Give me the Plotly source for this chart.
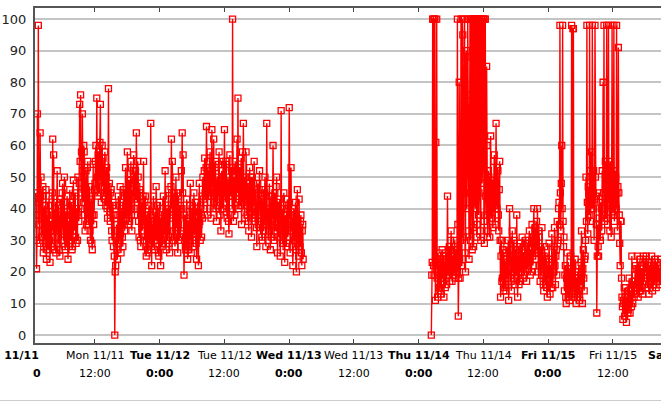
import pandas as pd
import plotly.graph_objects as go

# ---- data: readings every 5 minutes ----
mon_start = "2002-11-11 01:00"
mon_vals = [
    45, 38, 21, 30, 70, 42, 98, 35, 38, 29, 64, 44,
    50, 31, 33, 44, 47, 26, 28, 39, 41, 30, 35, 46,
    24, 33, 38, 27, 29, 41, 44, 30, 23, 35, 36, 28,
    31, 45, 62, 33, 57, 29, 27, 38, 40, 26, 33, 42,
    52, 34, 29, 41, 38, 27, 25, 36, 43, 30, 35, 45,
    48, 33, 30, 42, 50, 28, 27, 38, 39, 31, 44, 36,
    24, 35, 36, 29, 46, 33, 30, 42, 41, 27, 28, 37,
    49, 35, 33, 44, 45, 31, 29, 40, 38, 30, 50, 39,
    36, 48, 73, 55, 76, 45, 58, 40, 70, 52, 42, 60,
    58, 38, 33, 47, 52, 35, 40, 53, 55, 36, 35, 44,
    47, 33, 30, 41, 43, 29, 27, 38, 54, 35, 38, 46,
    48, 55, 60, 46, 75, 50, 44, 57, 58, 45, 52, 61,
    73, 49, 42, 55, 60, 47, 56, 44, 45, 52, 58, 43,
    41, 50, 53, 40, 37, 47, 78, 44, 48, 39, 36, 45,
    46, 33, 30, 41, 42, 28, 38, 25, 0, 20, 22, 31,
    35, 27, 24, 38, 44, 29, 30, 41, 47, 32, 26, 36,
    40, 31, 28, 42, 46, 35, 33, 45, 53, 38, 37, 44,
    58, 39, 35, 48, 49, 36, 40, 51, 55, 38, 33, 46,
    44, 52, 57, 40, 38, 49, 52, 43, 64, 47, 42, 55,
    50, 36, 31, 45, 46, 30, 28, 40, 42, 33, 35, 44,
    55, 37, 30, 42, 44, 28, 25, 36, 38, 27, 26, 35,
    41, 30, 29, 38, 67, 33, 22, 34, 35, 28, 44, 31,
    27, 36, 39, 30, 47, 33, 30, 41, 36, 26, 25, 34,
]
tue_start = "2002-11-12 00:00"
tue_vals = [
    42, 30, 22, 35, 37, 28, 29, 40, 44, 31, 32, 38,
    52, 34, 27, 39, 40, 30, 33, 43, 46, 29, 26, 37,
    38, 47, 62, 40, 55, 33, 30, 42, 45, 31, 28, 39,
    50, 37, 34, 45, 26, 35, 44, 30, 31, 40, 41, 33,
    52, 40, 64, 45, 57, 32, 19, 30, 38, 28, 27, 37,
    43, 31, 24, 36, 35, 27, 30, 41, 48, 33, 26, 35,
    40, 30, 28, 39, 45, 33, 32, 42, 37, 29, 24, 34,
    42, 32, 22, 35, 48, 36, 30, 40, 38, 31, 44, 37,
    50, 43, 40, 52, 56, 45, 44, 53, 66, 47, 38, 49,
    52, 44, 45, 55, 58, 42, 37, 48, 65, 50, 48, 40,
    62, 47, 42, 53, 55, 40, 36, 46, 50, 41, 46, 54,
    58, 44, 38, 49, 33, 45, 52, 40, 45, 55, 40, 47,
    65, 48, 42, 55, 54, 39, 37, 47, 50, 36, 32, 44,
    57, 45, 44, 53, 52, 40, 100, 46, 36, 50, 48, 38,
    55, 43, 42, 52, 62, 47, 75, 45, 40, 51, 53, 41,
    46, 56, 35, 44, 58, 42, 67, 48, 44, 37, 50, 43,
    58, 41, 38, 47, 48, 36, 33, 45, 53, 39, 42, 50,
    31, 42, 50, 37, 40, 48, 55, 38, 36, 46, 45, 34,
    28, 39, 48, 35, 38, 46, 52, 36, 34, 44, 43, 31,
    30, 41, 46, 33, 37, 45, 50, 35, 28, 39, 67, 36,
    40, 30, 33, 44, 48, 35, 27, 38, 44, 31, 36, 42,
    60, 38, 30, 41, 45, 33, 38, 47, 50, 34, 26, 37,
    42, 31, 34, 43, 25, 36, 71, 35, 40, 29, 30, 38,
    45, 33, 23, 35, 38, 28, 29, 40, 43, 31, 34, 41,
]
wed_start = "2002-11-13 00:00"
wed_vals = [
    72, 36, 26, 39, 53, 33, 35, 28, 22, 34, 40, 30,
    30, 38, 42, 27, 20, 33, 46, 29, 33, 25, 43, 31,
    28, 36, 38, 26, 22, 33, 35, 24,
]
thu_start = "2002-11-14 02:20"
thu_vals = [
    0, 19, 23, 100, 100, 22, 19, 100,
    100, 11, 61, 24, 100, 18, 12, 26, 22, 14, 15, 23,
    24, 16, 13, 22, 27, 19, 18, 25, 12, 20, 21, 15,
    26, 18, 16, 24, 44, 22, 19, 27, 28, 17, 22, 30,
    33, 21, 17, 25, 25, 19, 20, 28, 30, 22, 18, 26,
    27, 20, 100, 35, 6, 18, 80, 24, 18, 30, 100, 22,
    22, 100, 95, 31, 66, 45, 100, 26, 20, 88, 90, 40,
    52, 100, 76, 33, 24, 58, 100, 30, 45, 100, 72, 27,
    100, 34, 28, 100, 100, 42, 40, 100, 100, 31, 35, 100,
    100, 38, 45, 100, 100, 33, 30, 100, 100, 48, 55, 100,
    100, 36, 29, 100, 100, 44, 38, 85, 60, 31, 33, 52,
    50, 38, 31, 45, 63, 40, 37, 49, 48, 34, 42, 55,
    57, 41, 35, 48, 67, 44, 40, 53, 52, 38, 33, 46,
    55, 30, 12, 25, 30, 17, 18, 27, 26, 14, 15, 24,
    22, 16, 14, 25, 28, 18, 19, 30, 11, 21, 40, 23,
    25, 17, 14, 27, 33, 20, 20, 29, 30, 18, 16, 26,
    27, 19, 38, 22, 12, 25, 24, 16, 17, 28, 29, 21,
    20, 27, 31, 22, 18, 25, 26, 19, 22, 29, 30, 23,
    17, 24, 29, 21, 23, 30, 33, 24, 19, 26, 27, 20,
    35, 25, 22, 31, 40, 29, 28, 34, 24, 30, 36, 27,
    40, 26, 20, 33, 31, 22, 17, 28, 26, 19, 34, 25,
    22, 16, 14, 25, 28, 18, 16, 24, 24, 15, 12, 20,
]
fri_start = "2002-11-15 00:00"
fri_vals = [
    18, 24, 29, 19, 13, 21, 22, 15, 32, 23, 15, 20,
    20, 28, 34, 22, 16, 25, 27, 19, 36, 29, 30, 40,
    42, 35, 98, 45, 33, 48, 60, 40, 98, 36, 28, 31,
    14, 19, 22, 12, 10, 18, 26, 15, 12, 21, 20, 13,
    11, 18, 25, 13, 98, 20, 14, 97, 97, 16, 12, 19,
    24, 15, 10, 18, 18, 12, 13, 20, 22, 14, 11, 17,
    16, 23, 33, 19, 10, 21, 27, 18, 14, 24, 25, 30,
    50, 36, 98, 42, 32, 47, 45, 38, 98, 52, 36, 44,
    58, 40, 98, 45, 40, 52, 30, 43, 98, 50, 44, 35,
    7, 25, 35, 28, 25, 37, 45, 31, 30, 42, 40, 33,
    52, 38, 80, 45, 98, 36, 40, 55, 49, 37, 98, 44,
    35, 47, 98, 42, 46, 33, 55, 41, 31, 48, 98, 39,
    42, 50, 98, 36, 38, 52, 50, 40, 98, 45, 33, 47,
    91, 45, 38, 29, 22, 36, 36, 18, 12, 9, 5, 11,
    10, 15, 6, 12, 15, 8, 4, 11, 12, 7, 8, 14,
    18, 10, 7, 13, 14, 9, 25, 16, 10, 17, 16, 12,
    13, 19, 22, 15, 15, 21, 25, 17, 12, 20, 19, 14,
    24, 17, 14, 20, 21, 15, 13, 22, 25, 18, 17, 23,
    20, 24, 25, 18, 15, 21, 23, 16, 13, 19, 22, 17,
    17, 22, 25, 19, 14, 20, 22, 16, 19, 23, 24, 18,
    15, 20, 23, 17, 18, 22, 21, 16, 16, 19, 24, 20,
]

tick_times = ["2002-11-11 12:00", "2002-11-12 00:00", "2002-11-12 12:00",
              "2002-11-13 00:00", "2002-11-13 12:00", "2002-11-14 00:00",
              "2002-11-14 12:00", "2002-11-15 00:00", "2002-11-15 12:00"]
tick_days = ["Mon 11/11", "Tue 11/12", "Tue 11/12", "Wed 11/13", "Wed 11/13",
             "Thu 11/14", "Thu 11/14", "Fri 11/15", "Fri 11/15"]
tick_hours = ["12:00", "0:00", "12:00", "0:00", "12:00", "0:00", "12:00", "0:00", "12:00"]
y_ticks = [0, 10, 20, 30, 40, 50, 60, 70, 80, 90, 100]

x_range = ["2002-11-11 00:53", "2002-11-15 20:54"]


def stamps(start, vals):
    return list(pd.date_range(start, periods=len(vals), freq="5min"))


seg1_x = stamps(mon_start, mon_vals) + stamps(tue_start, tue_vals) + stamps(wed_start, wed_vals)
seg1_y = mon_vals + tue_vals + wed_vals
seg2_x = stamps(thu_start, thu_vals) + stamps(fri_start, fri_vals)
seg2_y = thu_vals + fri_vals

RED = "#ff0000"
fig = go.Figure()
for sx, sy in [(seg1_x, seg1_y), (seg2_x, seg2_y)]:
    fig.add_trace(go.Scatter(
        x=sx, y=sy, mode="lines+markers",
        line=dict(color=RED, width=1.4),
        marker=dict(symbol="square-open", size=6, color=RED, line=dict(width=1.3, color=RED)),
        showlegend=False, hoverinfo="skip",
    ))

LABEL_FONT = "DejaVu Sans, Verdana, sans-serif"
annotations = []
for t, d, h in zip(tick_times, tick_days, tick_hours):
    bold = h == "0:00"
    d_txt = f"<b>{d}</b>" if bold else d
    h_txt = f"<b>{h}</b>" if bold else h
    annotations.append(dict(x=t, xref="x", y=0, yref="paper", yanchor="middle", yshift=-12,
                            text=d_txt, showarrow=False,
                            font=dict(family=LABEL_FONT, size=11, color="#000")))
    annotations.append(dict(x=t, xref="x", y=0, yref="paper", yanchor="middle", yshift=-30,
                            text=h_txt, showarrow=False,
                            font=dict(family=LABEL_FONT, size=11, color="#000")))

# partial labels cut by the picture edges (as in the reference)
annotations.append(dict(x=0.0096, xref="paper", xanchor="right", y=0, yref="paper", yanchor="middle",
                        yshift=-12, text="<b>Mon 11/11</b>", showarrow=False,
                        font=dict(family=LABEL_FONT, size=11, color="#000")))
annotations.append(dict(x=0.0125, xref="paper", xanchor="right", y=0, yref="paper", yanchor="middle",
                        yshift=-30, text="<b>0</b>", showarrow=False,
                        font=dict(family=LABEL_FONT, size=11, color="#000")))
annotations.append(dict(x=1.0268, xref="paper", xanchor="center", y=0, yref="paper", yanchor="middle",
                        yshift=-12, text="<b>Sat 11/16</b>", showarrow=False,
                        font=dict(family=LABEL_FONT, size=11, color="#000")))

fig.update_layout(
    width=661, height=402, autosize=False,
    margin=dict(l=35, r=0, t=8, b=59, pad=0),
    paper_bgcolor="white", plot_bgcolor="white",
    showlegend=False,
    annotations=annotations,
    shapes=[dict(type="line", xref="paper", yref="paper", x0=-0.06, x1=1.0,
                 y0=-0.1716, y1=-0.1716, line=dict(color="#cccccc", width=1))],
    xaxis=dict(type="date", range=x_range, tickvals=tick_times, showticklabels=False,
               ticks="inside", ticklen=4, tickwidth=1, tickcolor="#444",
               showline=True, linecolor="#555555", linewidth=2, mirror="ticks",
               showgrid=False, zeroline=False, fixedrange=True),
    yaxis=dict(range=[-2.5, 103.5], tickvals=y_ticks, ticks="",
               showgrid=True, gridcolor="#c4c4c4", gridwidth=2,
               showline=True, linecolor="#555555", linewidth=2, zeroline=False,
               ticklabelstandoff=4,
               tickfont=dict(family=LABEL_FONT, size=13, color="#222"), fixedrange=True),
)

fig.write_html("out.html", config={"displayModeBar": False},
               post_script="document.body.style.margin='0';")
